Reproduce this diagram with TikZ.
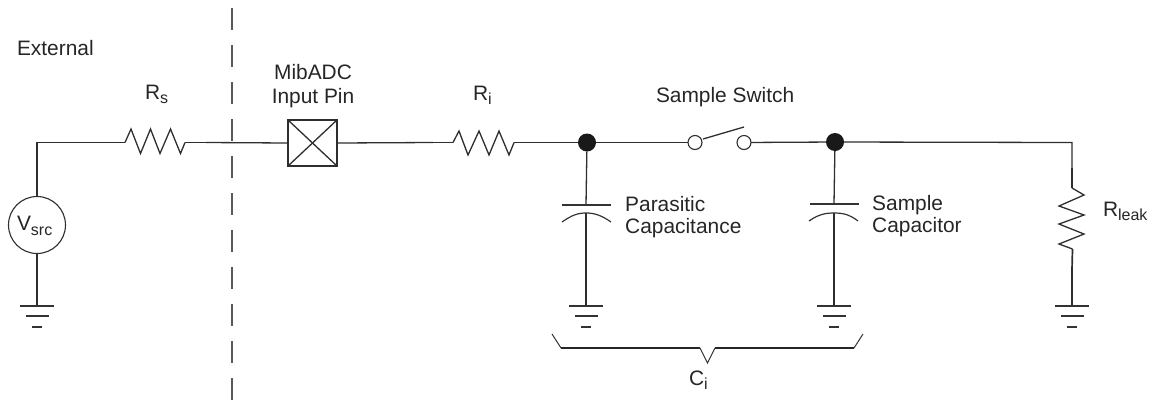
\documentclass[tikz,border=0pt]{standalone}
\usepackage{fontspec}
\setmainfont{Liberation Sans}
\newcommand{\lowsub}[1]{\raisebox{-4.5pt}{\fontsize{16}{16}\selectfont #1}}
\tikzset{
  wire/.style={draw=black!82,line width=1.3pt,line join=miter},
  stub/.style={draw=black!82,line width=1.7pt},
  label/.style={inner sep=0pt,outer sep=0pt,anchor=base west,text=black!85,font=\fontsize{20.9}{23.5}\selectfont},
  junction/.style={circle,fill=black!90,draw=none,minimum size=18pt,inner sep=0pt,outer sep=0pt},
  contact/.style={circle,draw=black!82,fill=white,line width=1.1pt,minimum size=14pt,inner sep=0pt,outer sep=0pt},
  source/.style={circle,draw=black!82,fill=white,line width=1.1pt,minimum size=57pt,inner sep=0pt,outer sep=0pt},
  pinbox/.style={rectangle,draw=black!82,fill=white,line width=1.2pt,minimum width=49pt,minimum height=46pt,inner sep=0pt,outer sep=0pt},
  boundary/.style={draw=black!65,line width=1.5pt,dash pattern=on 21.5pt off 15.5pt},
  bar/.style={draw=black!80,line width=1.2pt},
  brace/.style={draw=black!85,line width=2pt,line join=miter},
  braceend/.style={draw=black!80,line width=1pt}
}
\newcommand{\groundat}[2]{%
  \coordinate (#1) at (#2,306);
  \draw[bar] ($(#1)+(-17,0)$) -- ($(#1)+(17,0)$);
  \draw[bar] ($(#1)+(-11.5,10)$) -- ($(#1)+(11.5,10)$);
  \draw[bar] ($(#1)+(-5,21)$) -- ($(#1)+(5,21)$);}
\usetikzlibrary{calc}
\begin{document}
\begin{tikzpicture}[x=1pt,y=-1pt]
\useasboundingbox (0,0) rectangle (1153,400);
% boundary
\coordinate (bTop) at (232,8);
\coordinate (bBot) at (232,400);
\draw[boundary] (bTop) -- (bBot);
% grounds
\groundat{g1}{37}
\groundat{g2}{586}
\groundat{g3}{834}
\groundat{g4}{1072}
% key nodes
\node[source] (vsrc) at (37,225) {};
\node[label] (vsrcl) at (17,230.5) {V\lowsub{src}};
\node[pinbox] (pin) at (312.5,143) {};
\draw[wire] (pin.north west) -- (pin.south east);
\draw[wire] (pin.north east) -- (pin.south west);
\node[junction] (j1) at (587,142.5) {};
\node[junction] (j2) at (835,142) {};
\node[contact] (sw1) at (695,142.5) {};
\node[contact] (sw2) at (744,142.5) {};
\coordinate (corner1) at (37,142.5);
\coordinate (corner2) at (1072,142.5);
\coordinate (rsA) at (105,142.5);
\coordinate (rsB) at (206,142.5);
\coordinate (riA) at (433,142.5);
\coordinate (riB) at (533,142.5);
\coordinate (rlA) at (1072,168);
\coordinate (rlB) at (1072,270);
\coordinate (armEnd) at (744,127);
% wires
\draw[wire] (vsrc.north) -- (corner1) -- (rsA);
\draw[wire] (vsrc.south) -- (g1);
\draw[wire] (rsB) -- (pin.west);
\draw[wire] (pin.east) -- (riA);
\draw[wire] (riB) -- (j1);
\draw[wire] (j1) -- (sw1);
\draw[wire] (sw2) -- (j2);
\draw[wire] (j2) -- (corner2) -- (rlA);
\draw[wire] (rlB) -- (g4);
\draw[wire] (703,139) -- (armEnd);
% resistors
\draw[stub] (rsA) -- ++(20,0);
\draw[wire] ($(rsA)+(20,0)$) -- (131,129) -- (140.5,153.5) -- (150.5,129) -- (160,153.5) -- (170.5,129) -- (180.5,153.5) -- (185,142.5);
\draw[stub] (185,142.5) -- (rsB);
\draw[stub] (riA) -- ++(20,0);
\draw[wire] ($(riA)+(20,0)$) -- (459,131) -- (468,155) -- (479,131) -- (489,155) -- (499,131) -- (509,155) -- (514,142.5);
\draw[stub] (514,142.5) -- (riB);
\draw[stub] (rlA) -- ++(0,20);
\draw[wire] ($(rlA)+(0,20)$) -- (1084,195) -- (1059,206) -- (1084,215) -- (1059,224) -- (1084,234) -- (1059,244) -- (1072.5,249);
\draw[stub] (1072.5,249) -- (rlB);
% capacitors
\coordinate (c1p) at (586,205);
\coordinate (c1c) at (586,213);
\coordinate (c2p) at (834,204);
\coordinate (c2c) at (834,213);
\draw[wire] (j1) -- (c1p);
\draw[wire] (c1c) -- (g2);
\draw[wire] (j2) -- (c2p);
\draw[wire] (c2c) -- (g3);
\draw[bar] ($(c1p)+(-24.5,0)$) -- ($(c1p)+(24.5,0)$);
\draw[bar] ($(c2p)+(-24.5,0)$) -- ($(c2p)+(24.5,0)$);
\draw[bar] (562,222) .. controls (572,215) and (578,213) .. (c1c) .. controls (594,213) and (601,215) .. (611,222);
\draw[bar] (809,221) .. controls (819,214) and (826,213) .. (c2c) .. controls (842,213) and (849,214) .. (858,221);
% brace
\coordinate (brL) at (561,348);
\coordinate (brR) at (854,348);
\coordinate (brM) at (707.5,363);
\draw[braceend] (552,334) -- (brL);
\draw[braceend] (863,334) -- (brR);
\draw[brace] (brL) -- (700,348);
\draw[brace] (715,348) -- (brR);
\draw[braceend] (700,348) -- (brM) -- (715,348);
% labels
\node[label] (lext) at (17,55) {External};
\node[label] (lrs) at (145,99) {R\lowsub{s}};
\node[anchor=center,inner sep=0pt,text=black!85,align=center,font=\fontsize{20.9}{24}\selectfont] (lpin) at (313,86) {MibADC\\Input Pin};
\node[label] (lri) at (473,100) {R\lowsub{i}};
\node[label] (lsw) at (656,102) {Sample Switch};
\node[anchor=west,inner sep=0pt,text=black!85,align=left,font=\fontsize{20.9}{22.5}\selectfont] (lpc) at (625,217) {Parasitic\\Capacitance};
\node[anchor=west,inner sep=0pt,text=black!85,align=left,font=\fontsize{20.9}{22}\selectfont] (lsc) at (872,216) {Sample\\Capacitor};
\node[label] (lrl) at (1103,216) {R\lowsub{leak}};
\node[label] (lci) at (689,385) {C\lowsub{i}};
\end{tikzpicture}
\end{document}
